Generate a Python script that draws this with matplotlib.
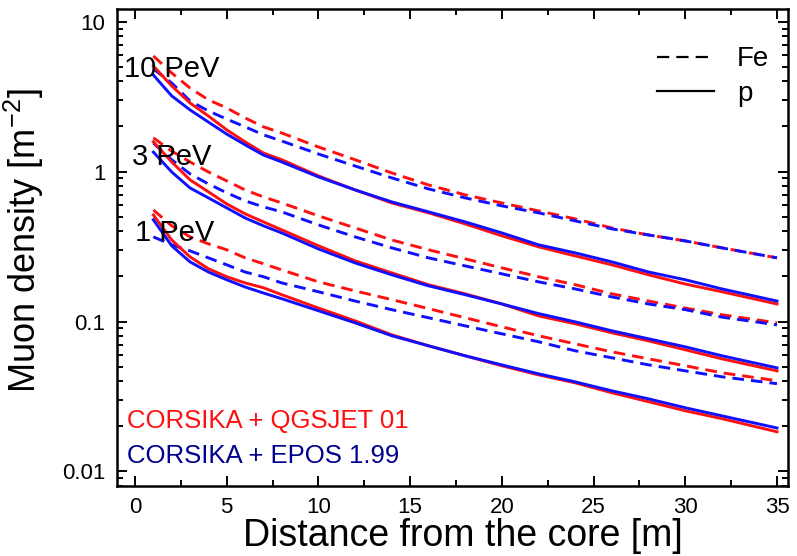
import matplotlib
matplotlib.use("Agg")
import matplotlib.pyplot as plt
from matplotlib.lines import Line2D
from matplotlib.ticker import FixedLocator, NullFormatter, LogLocator

plt.rcParams['font.family'] = ['Liberation Sans', 'DejaVu Sans']
plt.rcParams['mathtext.fontset'] = 'custom'
plt.rcParams['mathtext.rm'] = 'Liberation Sans'
plt.rcParams['mathtext.it'] = 'Liberation Sans:italic'
plt.rcParams['mathtext.bf'] = 'Liberation Sans:bold'

# distance from the core [m]
distance = [1, 2, 3, 4, 5, 6, 7, 8, 10, 12, 14, 16, 18, 20, 22, 24, 26, 28, 30, 32, 35]

# 10 PeV
qgs_fe_10 = [5.91, 4.55, 3.61, 3.01, 2.66, 2.28, 1.99, 1.81, 1.46, 1.20, 0.98, 0.815, 0.70, 0.618,
             0.547, 0.484, 0.421, 0.378, 0.345, 0.310, 0.266]
epos_fe_10 = [4.84, 3.90, 2.96, 2.54, 2.24, 1.99, 1.76, 1.60, 1.31, 1.09, 0.908, 0.767, 0.668, 0.591,
              0.531, 0.469, 0.415, 0.378, 0.345, 0.310, 0.266]
qgs_p_10 = [5.07, 3.73, 2.87, 2.35, 1.90, 1.58, 1.33, 1.20, 0.936, 0.755, 0.618, 0.531, 0.448, 0.373,
            0.315, 0.274, 0.239, 0.205, 0.178, 0.158, 0.131]
epos_p_10 = [4.41, 3.20, 2.58, 2.14, 1.78, 1.51, 1.29, 1.16, 0.922, 0.755, 0.628, 0.539, 0.462, 0.390,
             0.325, 0.287, 0.250, 0.214, 0.190, 0.165, 0.137]

# 3 PeV
qgs_fe_3 = [1.68, 1.37, 1.16, 0.995, 0.867, 0.755, 0.678, 0.618, 0.507, 0.421, 0.350, 0.301, 0.262,
            0.228, 0.199, 0.176, 0.153, 0.137, 0.123, 0.111, 0.098]
epos_fe_3 = [1.55, 1.20, 0.966, 0.828, 0.722, 0.638, 0.582, 0.539, 0.441, 0.367, 0.310, 0.266, 0.235,
             0.208, 0.184, 0.165, 0.146, 0.131, 0.120, 0.107, 0.095]
qgs_p_3 = [1.58, 1.16, 0.881, 0.733, 0.609, 0.523, 0.462, 0.409, 0.320, 0.254, 0.211, 0.176, 0.153,
           0.131, 0.109, 0.0966, 0.0841, 0.0743, 0.0648, 0.0564, 0.0469]
epos_p_3 = [1.35, 0.995, 0.778, 0.668, 0.573, 0.491, 0.435, 0.390, 0.305, 0.246, 0.205, 0.173, 0.151,
            0.131, 0.113, 0.0995, 0.0867, 0.0767, 0.0678, 0.0591, 0.0491]

# 1 PeV
qgs_fe_1 = [0.555, 0.435, 0.367, 0.330, 0.301, 0.266, 0.243, 0.221, 0.184, 0.160, 0.140, 0.122, 0.106,
            0.0922, 0.0804, 0.0710, 0.0628, 0.0564, 0.0507, 0.0455, 0.0403]
epos_fe_1 = [0.367, 0.325, 0.296, 0.266, 0.239, 0.214, 0.199, 0.181, 0.158, 0.137, 0.120, 0.106, 0.0936,
             0.0828, 0.0733, 0.0638, 0.0573, 0.0514, 0.0469, 0.0428, 0.0385]
qgs_p_1 = [0.514, 0.350, 0.270, 0.225, 0.199, 0.181, 0.168, 0.151, 0.123, 0.101, 0.0815, 0.0689, 0.0591,
           0.0507, 0.0441, 0.0390, 0.0335, 0.0292, 0.0254, 0.0225, 0.0184]
epos_p_1 = [0.477, 0.320, 0.250, 0.214, 0.190, 0.170, 0.155, 0.142, 0.118, 0.098, 0.0804, 0.0689, 0.0591,
            0.0514, 0.0448, 0.0396, 0.0345, 0.0305, 0.0266, 0.0235, 0.0195]

energy_labels = ["10 PeV", "3 PeV", "1 PeV"]
x_ticks = [0, 5, 10, 15, 20, 25, 30, 35]
y_ticks = [0.01, 0.1, 1, 10]
y_tick_labels = ["0.01", "0.1", "1", "10"]

RED = "#ff1010"
BLUE = "#1010ff"
NAVY = "#000090"

fig = plt.figure(figsize=(7.97, 5.56), dpi=100)
ax = fig.add_axes([0.1464, 0.1259, 0.8423, 0.8574])

lw = 2.1
dash = (0, (4, 2.4))
for fe_q, fe_e, p_q, p_e in [(qgs_fe_10, epos_fe_10, qgs_p_10, epos_p_10),
                             (qgs_fe_3, epos_fe_3, qgs_p_3, epos_p_3),
                             (qgs_fe_1, epos_fe_1, qgs_p_1, epos_p_1)]:
    ax.plot(distance, fe_q, color=RED, lw=lw, linestyle=dash)
    ax.plot(distance, fe_e, color=BLUE, lw=lw, linestyle=dash)
    ax.plot(distance, p_q, color=RED, lw=lw)
    ax.plot(distance, p_e, color=BLUE, lw=lw)

ax.set_yscale("log")
ax.set_xlim(-1.0, 35.6)
ax.set_ylim(0.0080, 12.1)

ax.set_xticks(x_ticks)
ax.set_xticklabels([str(t) for t in x_ticks])
ax.xaxis.set_minor_locator(FixedLocator([2.5 + 5 * i for i in range(7)]))
ax.set_yticks(y_ticks)
ax.set_yticklabels(y_tick_labels)
ax.yaxis.set_minor_locator(LogLocator(base=10, subs=range(2, 10)))
ax.yaxis.set_minor_formatter(NullFormatter())

ax.tick_params(which="both", direction="in", top=True, right=True, width=1.4,
               labelsize=16, pad=8)
ax.tick_params(which="major", length=7)
ax.tick_params(which="minor", length=4.5)
for s in ax.spines.values():
    s.set_linewidth(1.8)

ax.set_xlabel("Distance from the core [m]", fontsize=27)
ax.xaxis.set_label_coords(0.516, -0.068)
ax.set_ylabel("Muon density [m$^{-2}$]", fontsize=26)
ax.yaxis.set_label_coords(-0.106, 0.515)

ax.text(-0.6, 4.25, energy_labels[0], fontsize=21, ha="left", va="baseline")
ax.text(-0.15, 1.10, energy_labels[1], fontsize=21, ha="left", va="baseline")
ax.text(0.0, 0.342, energy_labels[2], fontsize=21, ha="left", va="baseline")

ax.text(-0.43, 0.0196, "CORSIKA + QGSJET 01", fontsize=18.5, color=RED, ha="left", va="baseline")
ax.text(-0.43, 0.01143, "CORSIKA + EPOS 1.99", fontsize=18.5, color=NAVY, ha="left", va="baseline")

handles = [Line2D([], [], color="black", lw=1.6, linestyle=(0, (5.5, 3.2))),
           Line2D([], [], color="black", lw=1.6)]
ax.legend(handles, ["Fe", "p"], loc="upper right", frameon=False, fontsize=20,
          handlelength=2.05, handletextpad=0.83, labelspacing=0.29,
          borderpad=0, borderaxespad=0, bbox_to_anchor=(0.972, 0.922))

fig.savefig("out.png", dpi=100)
